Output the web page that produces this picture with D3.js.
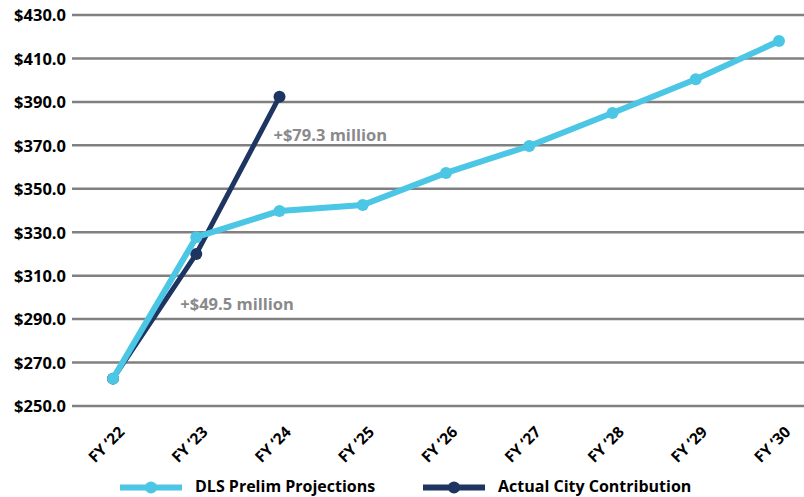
<!DOCTYPE html>
<html>
<head>
<meta charset="utf-8">
<script src="https://cdn.jsdelivr.net/npm/d3@7/dist/d3.min.js"></script>
<style>
  html, body { margin: 0; padding: 0; background: #fff; }
  svg { display: block; font-family: "Open Sans", "Noto Sans", sans-serif; }
</style>
</head>
<body>
<svg id="chart" width="804" height="497"></svg>
<script>
// Fiscal years on the x axis
const years = ["FY \u201822", "FY \u201823", "FY \u201824", "FY \u201825", "FY \u201826",
               "FY \u201827", "FY \u201828", "FY \u201829", "FY \u201830"];

// DLS preliminary projections ($ millions)
const dlsProjections = [262.6, 327.7, 339.8, 342.5, 357.3, 369.7, 384.9, 400.4, 418.0];

// Actual city contribution ($ millions), FY '22 – FY '24
const actualContribution = [262.6, 320.0, 392.4];

// Y axis ticks
const yTicks = [250, 270, 290, 310, 330, 350, 370, 390, 410, 430];

// Callout text
const callouts = [
  { text: "+$79.3 million", year: 2, value: 371.8, dx: -6 },
  { text: "+$49.5 million", year: 1, value: 294.2, dx: -16 }
];

const seriesInfo = [
  { name: "DLS Prelim Projections", color: "#4BC6E4", width: 6, values: dlsProjections },
  { name: "Actual City Contribution", color: "#1E3461", width: 5, values: actualContribution }
];

const svg = d3.select("#chart");

const x = d3.scalePoint().domain(years).range([71.4, 820.6]).padding(0.5);
const y = d3.scaleLinear().domain([250, 430]).range([406, 15]);

// Horizontal gridlines
svg.append("g")
  .selectAll("line")
  .data(yTicks)
  .join("line")
  .attr("x1", 72).attr("x2", 804)
  .attr("y1", d => y(d)).attr("y2", d => y(d))
  .attr("stroke", "#808080")
  .attr("stroke-width", 2.5);

// Y axis labels
const yAxis = d3.axisLeft(y).tickValues(yTicks).tickSize(0).tickPadding(0)
  .tickFormat(d => "$" + d3.format(".1f")(d));
svg.append("g")
  .attr("transform", "translate(66,0)")
  .call(yAxis)
  .call(g => g.select(".domain").remove())
  .call(g => g.selectAll("text")
    .attr("font-family", "\"Open Sans\", sans-serif")
    .attr("font-size", 16.5)
    .attr("font-weight", 700)
    .attr("fill", "#000")
    .attr("dy", "0.35em"));

// X axis labels, rotated
const xAxis = d3.axisBottom(x).tickSize(0).tickPadding(0);
svg.append("g")
  .attr("transform", "translate(0,406)")
  .call(xAxis)
  .call(g => g.select(".domain").remove())
  .call(g => g.selectAll("text")
    .attr("font-family", "\"Open Sans\", sans-serif")
    .attr("font-size", 15.5)
    .attr("font-weight", 700)
    .attr("fill", "#000")
    .attr("text-anchor", "end")
    .attr("dy", null)
    .attr("y", 0)
    .attr("transform", "translate(12,27) rotate(-45)"));

const line = d3.line().x((d, i) => x(years[i])).y(d => y(d));

// Actual first, projections on top
const drawOrder = [seriesInfo[1], seriesInfo[0]];
drawOrder.forEach(s => {
  const g = svg.append("g");
  g.append("path")
    .datum(s.values)
    .attr("d", line)
    .attr("fill", "none")
    .attr("stroke", s.color)
    .attr("stroke-width", s.width)
    .attr("stroke-linejoin", "round");
  g.selectAll("circle")
    .data(s.values)
    .join("circle")
    .attr("cx", (d, i) => x(years[i]))
    .attr("cy", d => y(d))
    .attr("r", 6)
    .attr("fill", s.color);
});

// Callouts
svg.append("g")
  .selectAll("text")
  .data(callouts)
  .join("text")
  .attr("x", d => x(years[d.year]) + d.dx)
  .attr("y", d => y(d.value))
  .attr("font-family", "\"Open Sans\", sans-serif")
  .attr("font-size", 16.5)
  .attr("font-weight", 700)
  .attr("fill", "#8A8A8C")
  .text(d => d.text);

// Legend
const legendX = [120, 423];
const legend = svg.append("g").selectAll("g")
  .data(seriesInfo)
  .join("g")
  .attr("transform", (d, i) => `translate(${legendX[i]},487.5)`);
legend.append("line")
  .attr("x1", 0).attr("x2", 62)
  .attr("stroke", d => d.color)
  .attr("stroke-width", 6);
legend.append("circle")
  .attr("cx", 31).attr("r", 6)
  .attr("fill", d => d.color);
legend.append("text")
  .attr("x", 75)
  .attr("y", 4)
  .attr("font-family", "\"Open Sans\", sans-serif")
  .attr("font-size", 16)
  .attr("font-weight", 700)
  .attr("fill", "#000")
  .text(d => d.name);
</script>
</body>
</html>
